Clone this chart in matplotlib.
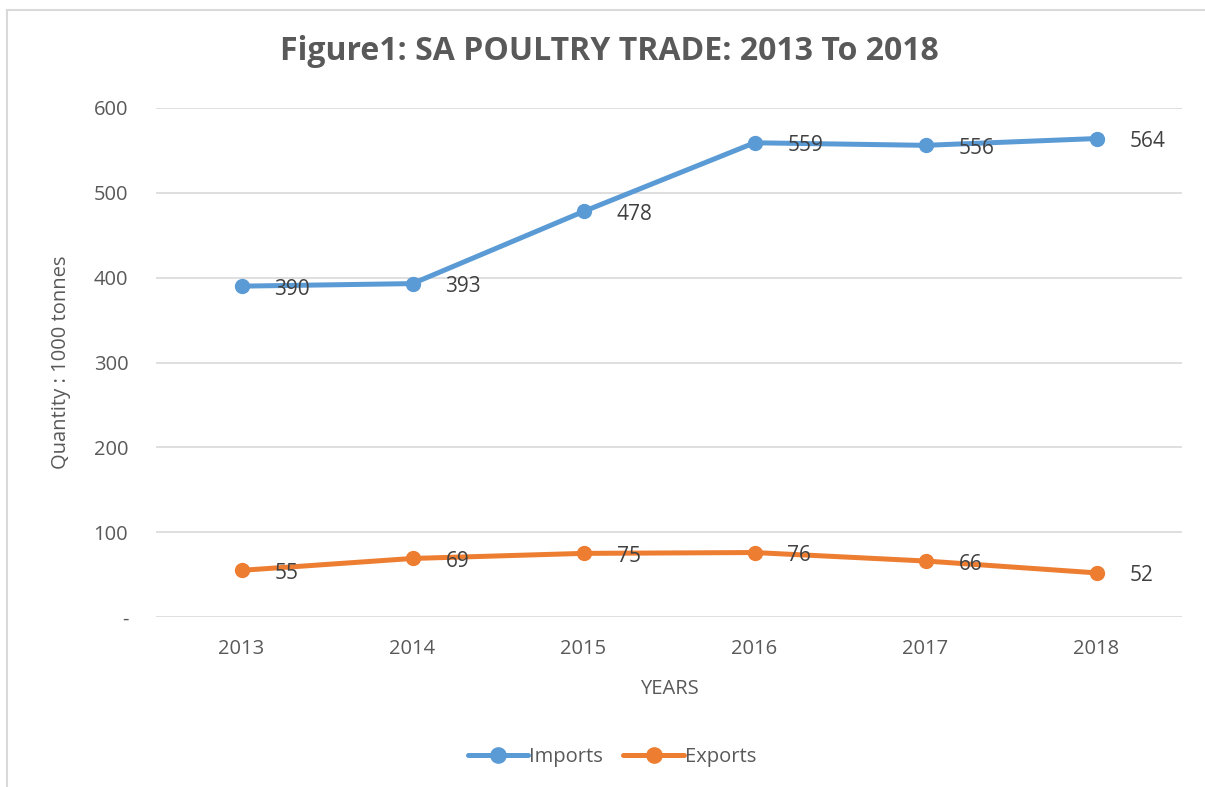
import matplotlib.pyplot as plt
from matplotlib.lines import Line2D

plt.rcParams['font.family'] = ['Open Sans', 'DejaVu Sans']

years = ["2013", "2014", "2015", "2016", "2017", "2018"]
imports = [390, 393, 478, 559, 556, 564]
exports = [55, 69, 75, 76, 66, 52]
yticks = [0, 100, 200, 300, 400, 500, 600]
ytick_labels = ["-", "100", "200", "300", "400", "500", "600"]

GRAY = "#595959"
W, H = 1205, 787

fig = plt.figure(figsize=(W / 100, H / 100), dpi=100)
ax = fig.add_axes([156 / W, 1 - 617 / H, (1182 - 156) / W, (617 - 108) / H])

x = list(range(len(years)))
series = [("Imports", imports, "#5B9BD5"), ("Exports", exports, "#ED7D31")]
for name, vals, col in series:
    ax.plot(x, vals, color=col, lw=3.6, marker="o", ms=10, label=name,
            solid_capstyle="round", zorder=3)
    for xi, v in zip(x, vals):
        ax.annotate(str(v), (xi, v), xytext=(33, -3), textcoords="offset pixels",
                    ha="left", va="center", fontsize=15, color="#404040", zorder=4)

ax.set_xlim(-0.5, len(years) - 0.5)
ax.set_ylim(0, 600)
ax.set_xticks(x)
ax.set_xticklabels(years)
ax.set_yticks(yticks)
ax.set_yticklabels(ytick_labels)
ax.tick_params(length=0, labelsize=14.5, colors=GRAY)
ax.tick_params(axis="x", pad=16)
ax.tick_params(axis="y", pad=20)
ax.grid(axis="y", color="#D9D9D9", lw=1.2)
ax.set_axisbelow(True)
for s in ax.spines.values():
    s.set_visible(False)

ax.set_xlabel("YEARS", fontsize=14.5, color=GRAY, labelpad=14)
ax.set_ylabel("Quantity : 1000 tonnes", fontsize=14.5, color=GRAY, labelpad=16)
fig.text(0.5 * (281 + 937) / W, 1 - 52 / H, "Figure1: SA POULTRY TRADE: 2013 To 2018",
         ha="center", va="center", fontsize=23, fontweight="bold", color=GRAY)

fig.legend(loc="center", bbox_to_anchor=(612 / W, 1 - 757 / H), ncol=2, frameon=False,
           fontsize=14.5, labelcolor=GRAY, handlelength=3.0, columnspacing=1.0,
           handletextpad=0.05, markerscale=1.1)

# outer chart frame
fig.add_artist(Line2D([7 / W, 1], [1 - 10 / H, 1 - 10 / H], color="#D9D9D9", lw=1.5))
fig.add_artist(Line2D([7 / W, 7 / W], [0, 1 - 10 / H], color="#D9D9D9", lw=1.5))

fig.savefig("out.png", dpi=100)
